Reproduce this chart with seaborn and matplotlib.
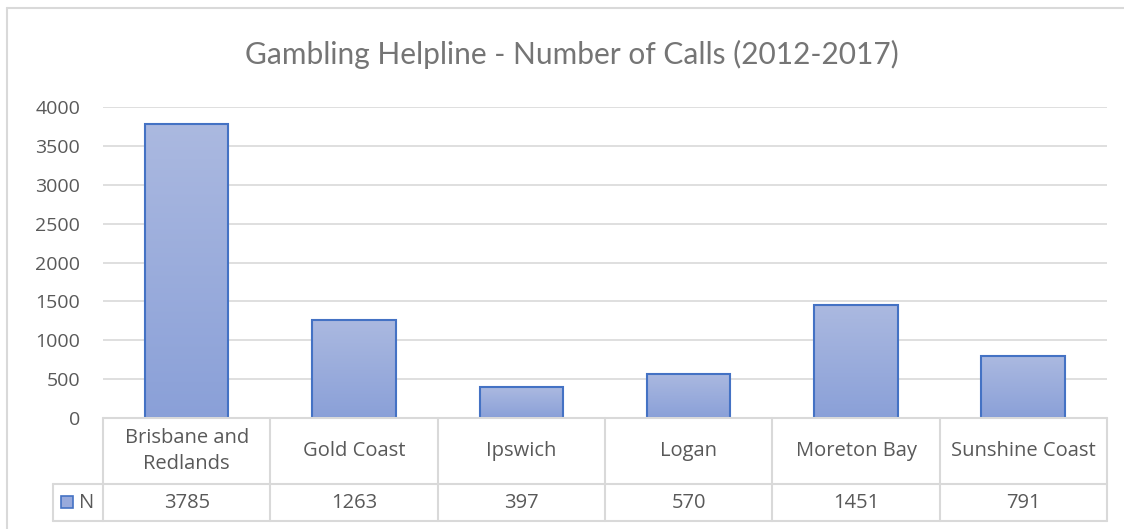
import numpy as np
import pandas as pd
import matplotlib
matplotlib.use("Agg")
import matplotlib.pyplot as plt
from matplotlib.colors import LinearSegmentedColormap
import seaborn as sns

regions = ["Brisbane and\nRedlands", "Gold Coast", "Ipswich", "Logan", "Moreton Bay", "Sunshine Coast"]
calls = [3785, 1263, 397, 570, 1451, 791]
series_name = "N"
title = "Gambling Helpline - Number of Calls (2012-2017)"
y_ticks = [0, 500, 1000, 1500, 2000, 2500, 3000, 3500, 4000]

W, H = 1124, 529
sns.set_theme(style="white")
plt.rcParams["font.family"] = ["Open Sans", "DejaVu Sans"]

fig = plt.figure(figsize=(W / 100, H / 100), dpi=100)
fig.patch.set_facecolor("white")

# plot area in pixel coordinates
px_l, px_r, px_t, px_b = 103, 1107, 107, 418
ax = fig.add_axes([px_l / W, 1 - px_b / H, (px_r - px_l) / W, (px_b - px_t) / H])

df = pd.DataFrame({"region": regions, "calls": calls})
sns.barplot(data=df, x="region", y="calls", ax=ax, width=0.5,
            color="#8ea2d9", edgecolor="#4472c4", linewidth=1.5, zorder=3)

ax.set_ylim(0, 4000)
ax.set_xlim(-0.5, len(regions) - 0.5)
ax.set_yticks(y_ticks)
ax.set_yticklabels([str(v) for v in y_ticks], color="#595959", fontsize=14)
ax.tick_params(axis="y", length=0, pad=16.5)
ax.set_xticks([])
ax.set_xlabel("")
ax.set_ylabel("")
for s in ax.spines.values():
    s.set_visible(False)
ax.grid(axis="y", color="#d9d9d9", linewidth=1.2, zorder=0)
ax.set_axisbelow(True)

# vertical gradient fill for each bar
cmap = LinearSegmentedColormap.from_list("barfill", ["#8aa0d8", "#abb9e0"])
grad = np.linspace(0, 1, 256).reshape(-1, 1)
for p in ax.patches:
    x0, y0 = p.get_x(), p.get_y()
    w, h = p.get_width(), p.get_height()
    im = ax.imshow(grad, cmap=cmap, origin="lower", aspect="auto",
                   extent=[x0, x0 + w, y0, y0 + h], zorder=3.5)
    im.set_clip_path(p)
    p.set_facecolor("none")
    p.set_zorder(4)
ax.set_xlim(-0.5, len(regions) - 0.5)
ax.set_ylim(0, 4000)

# title
fig.text(572 / W, 1 - 54 / H, title, ha="center", va="center",
         fontsize=21.5, color="#757575", family=["Lato", "DejaVu Sans"])

# data table below the plot area
lc = "#d9d9d9"
def fx(x):
    return x / W
def fy(y):
    return 1 - y / H
def hline(x0, x1, y):
    fig.add_artist(plt.Line2D([fx(x0), fx(x1)], [fy(y), fy(y)], color=lc, lw=1.5))
def vline(x, y0, y1):
    fig.add_artist(plt.Line2D([fx(x), fx(x)], [fy(y0), fy(y1)], color=lc, lw=1.5))

row_top, row_mid, row_bot = 418, 484, 521
key_l = 53
col_w = (px_r - px_l) / len(regions)
hline(px_l, px_r, row_top)
hline(key_l, px_r, row_mid)
hline(key_l, px_r, row_bot)
vline(key_l, row_mid, row_bot)
for i in range(len(regions) + 1):
    vline(px_l + i * col_w, row_top, row_bot)

for i, (r, v) in enumerate(zip(regions, calls)):
    cx = px_l + (i + 0.5) * col_w
    fig.text(fx(cx), fy((row_top + row_mid) / 2), r, ha="center", va="center",
             fontsize=14.5, color="#595959", linespacing=1.4)
    fig.text(fx(cx), fy((row_mid + row_bot) / 2), f"{v}", ha="center", va="center",
             fontsize=14.5, color="#595959")

# legend key in the table
fig.add_artist(plt.Rectangle((fx(61), fy(508)), 12 / W, 12 / H,
                             facecolor="#98aadc", edgecolor="#4472c4", lw=1.2))
fig.text(fx(79), fy((row_mid + row_bot) / 2), series_name, ha="left", va="center",
         fontsize=14.5, color="#595959")

# chart frame
fig.add_artist(plt.Line2D([fx(7), fx(7)], [fy(8), 0], color=lc, lw=1.5))
fig.add_artist(plt.Line2D([fx(7), 1], [fy(8), fy(8)], color=lc, lw=1.5))

fig.savefig("out.png", dpi=100, facecolor="white")
